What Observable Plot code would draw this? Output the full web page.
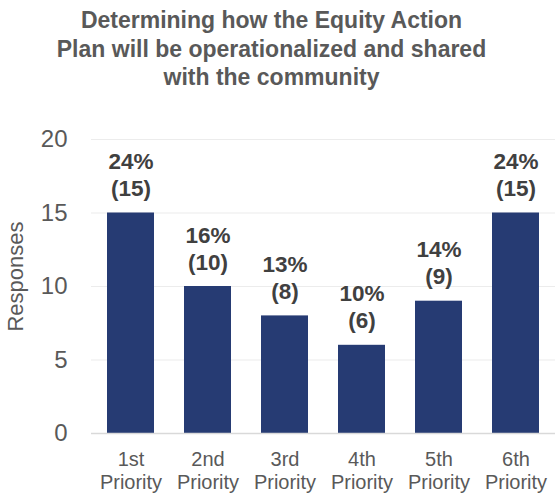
<!DOCTYPE html>
<html>
<head>
<meta charset="utf-8">
<script src="https://cdn.jsdelivr.net/npm/d3@7"></script>
<script src="https://cdn.jsdelivr.net/npm/@observablehq/plot@0.6"></script>
<style>
  html, body { margin: 0; padding: 0; background: #fff; }
  body { width: 555px; height: 498px; overflow: hidden; font-family: "Liberation Sans", Arial, sans-serif; }
  #title { width: 543px; height: 100px; box-sizing: border-box; padding-top: 6px; text-align: center;
           font-weight: bold; font-size: 23px; line-height: 28.5px; color: #595959; }
</style>
</head>
<body>
<div id="title">Determining how the Equity Action<br>Plan will be operationalized and shared<br>with the community</div>
<div id="chart"></div>
<script>
const categories = ["1st Priority", "2nd Priority", "3rd Priority", "4th Priority", "5th Priority", "6th Priority"];
const responses = [15, 10, 8, 6, 9, 15];
const percents = ["24%", "16%", "13%", "10%", "14%", "24%"];
const yTicks = [0, 5, 10, 15, 20];
const gridTicks = [5, 10, 15, 20];

const data = categories.map((c, i) => ({ category: c, value: responses[i], label: `${percents[i]}\n(${responses[i]})` }));

const chart = Plot.plot({
  width: 555,
  height: 398,
  marginTop: 39,
  marginBottom: 65,
  marginLeft: 91,
  marginRight: 0,
  style: { fontFamily: '"Liberation Sans", Arial, sans-serif', background: "#fff" },
  x: { domain: categories, paddingInner: 0.395, paddingOuter: 0.2, axis: null },
  y: { domain: [0, 20], axis: null },
  marks: [
    Plot.ruleY(gridTicks, { stroke: "#ececec", strokeWidth: 1.2 }),
    Plot.barY(data, { x: "category", y: "value", fill: "#263b73" }),
    Plot.ruleY([0], { stroke: "#d9d9d9", strokeWidth: 1.5 }),
    Plot.axisY(yTicks, { tickSize: 0, tickPadding: 24, fontSize: 24, color: "#595959", label: null }),
    Plot.axisX({ tickSize: 0, tickPadding: 17, fontSize: 20, color: "#595959", label: null, lineHeight: 1.12,
                 tickFormat: d => d.replace(" ", "\n") }),
    Plot.text(data, { x: "category", y: "value", text: "label", lineAnchor: "bottom", dy: -17,
                      fontSize: 22.5, fontWeight: "bold", fill: "#404040", lineHeight: 1.2 }),
    Plot.text(["Responses"], { frameAnchor: "left", textAnchor: "middle", dx: -76, dy: -10, rotate: -90, fontSize: 22, fill: "#595959" })
  ]
});
document.getElementById("chart").appendChild(chart);
</script>
</body>
</html>
